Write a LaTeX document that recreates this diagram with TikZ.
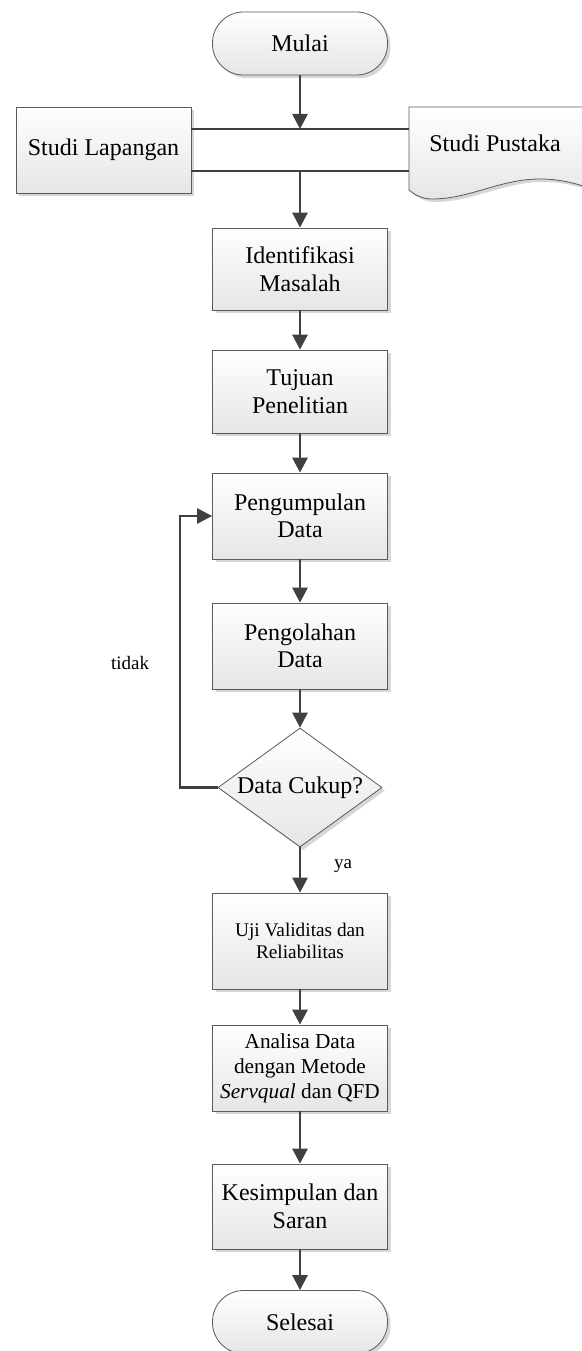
\documentclass[tikz,border=0pt]{standalone}
\usepackage{fontspec}
\setmainfont{Liberation Serif}
\usetikzlibrary{arrows.meta,shadows,shapes.geometric}
\definecolor{linec}{HTML}{404040}
\definecolor{bordc}{HTML}{5A5A5A}
\definecolor{shadc}{HTML}{D6D6D6}
\tikzset{
 base/.style={draw=bordc, line width=0.8pt, top color=white, bottom color=black!10,
   drop shadow={shadow xshift=3pt, shadow yshift=-3pt, fill=shadc, opacity=1},
   align=center, font=\fontsize{24}{27.5}\selectfont, inner sep=2pt},
 procbox/.style={base, rectangle, minimum width=175pt},
 term/.style={base, rectangle, rounded corners=31pt, minimum width=175pt, minimum height=63pt},
 dec/.style={base, diamond, aspect=1.38, minimum width=164pt, minimum height=119pt, inner sep=0pt},
 conn/.style={draw=linec, line width=2.7pt, -{Triangle[length=15pt,width=15pt]}},
 plainline/.style={draw=linec, line width=2.7pt},
 lbl/.style={font=\fontsize{19}{22}\selectfont},
}
\begin{document}
\begin{tikzpicture}[x=1pt,y=-1pt]
\useasboundingbox (0,0) rectangle (581,1351);
\fill[white] (0,0) rectangle (581,1351);

\node[term] (start) at (300,43.5) {Mulai};
\node[procbox, minimum height=86pt] (lap) at (103.5,150) {Studi Lapangan};

% Studi Pustaka (document shape)
\coordinate (pusleft) at (409,107);
\draw[draw=bordc, line width=0.8pt, top color=white, bottom color=black!10,
   drop shadow={shadow xshift=3pt, shadow yshift=-3pt, fill=shadc, opacity=1}]
  (409,107) -- (605,107) -- (605,194)
  .. controls (585,186) and (565,179) .. (540,179)
  .. controls (500,179) and (470,199) .. (432,199)
  .. controls (424,199) and (416,196) .. (409,190) -- cycle;
\node[font=\fontsize{24}{27.5}\selectfont] (pus) at (495,143) {Studi Pustaka};

\node[procbox, minimum height=82pt] (idf) at (300,269) {Identifikasi\\Masalah};
\node[procbox, minimum height=83pt] (tuj) at (300,391.5) {Tujuan\\Penelitian};
\node[procbox, minimum height=86pt] (pg) at (300,516) {Pengumpulan\\Data};
\node[procbox, minimum height=86pt] (po) at (300,646) {Pengolahan\\Data};
\node[dec] (dec) at (300,787.5) {Data Cukup?};
\node[procbox, minimum height=96pt, font=\fontsize{19.3}{22}\selectfont] (uji) at (300,941) {Uji Validitas dan\\Reliabilitas};
\node[procbox, minimum height=86pt, font=\fontsize{21.3}{25}\selectfont] (ana) at (300,1068) {Analisa Data\\dengan Metode\\\textit{Servqual} dan QFD};
\node[procbox, minimum height=85pt] (kes) at (300,1206.5) {Kesimpulan dan\\Saran};
\node[term] (end) at (300,1322) {Selesai};

% connectors
\coordinate (j1) at (300,129);
\coordinate (j2) at (300,171);
\coordinate (lp) at (180,0);
\draw[plainline] ([yshift=21pt]lap.east) -- ([yshift=21pt]lap.east -| pusleft);
\draw[plainline] ([yshift=-21pt]lap.east) -- ([yshift=-21pt]lap.east -| pusleft);
\draw[conn] (start.south) -- (j1);
\draw[conn] (j2) -- (idf.north);
\draw[conn] (idf.south) -- (tuj.north);
\draw[conn] (tuj.south) -- (pg.north);
\draw[conn] (pg.south) -- (po.north);
\draw[conn] (po.south) -- (dec.north);
\draw[conn] (dec.south) -- (uji.north);
\draw[conn] (uji.south) -- (ana.north);
\draw[conn] (ana.south) -- (kes.north);
\draw[conn] (kes.south) -- (end.north);
\draw[conn] (dec.west) -- (dec.west -| lp) |- (pg.west);

\node[lbl] (ya) at (343,866) {ya};
\node[lbl] (tidak) at (130,663) {tidak};
\end{tikzpicture}
\end{document}
